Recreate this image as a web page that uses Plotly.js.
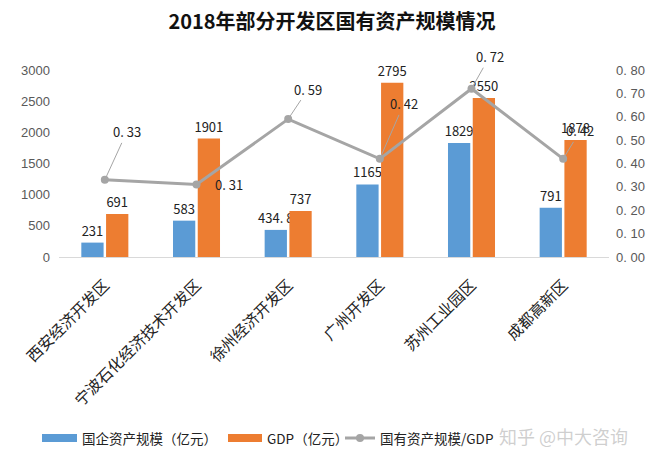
<!DOCTYPE html>
<html><head><meta charset="utf-8">
<script src="https://cdn.plot.ly/plotly-3.0.1.min.js"></script>
<style>html,body{margin:0;padding:0;background:#fff;}#chart{width:664px;height:466px;}</style>
</head><body><div id="chart"></div>
<script>
const categories = ["西安经济开发区","宁波石化经济技术开发区","徐州经济开发区","广州开发区","苏州工业园区","成都高新区"];
const soeAssets = [231, 583, 434.8, 1165, 1829, 791];
const gdp = [691, 1901, 737, 2795, 2550, 1878];
const ratio = [0.33, 0.31, 0.59, 0.42, 0.72, 0.42];
const ratioLabels = ["0. 33","0. 31","0. 59","0. 42","0. 72","0. 42"];
const rightTickVals = [0,0.1,0.2,0.3,0.4,0.5,0.6,0.7,0.8];
const rightTickText = ["0. 00","0. 10","0. 20","0. 30","0. 40","0. 50","0. 60","0. 70","0. 80"];
const seriesNames = ["国企资产规模（亿元）","GDP（亿元）","国有资产规模/GDP"];
const colors = ['#5B9BD5','#ED7D31','#A5A5A5'];

const F = '"Noto Sans CJK SC", "Noto Sans", sans-serif';
const labelFont = {family: F, size: 13, color: '#222'};

// plot area in pixels: x 59..609, y 70..257
const px = v => (v - 59) / 550;
const py = v => (257 - v) / 187;

const traces = [
  {type:'bar', name: seriesNames[0], x: categories, y: soeAssets, marker:{color:colors[0]},
   text: soeAssets.map(v => String(v).replace('.', '. ')), textposition:'outside', cliponaxis:false,
   constraintext:'none', textfont: labelFont, hoverinfo:'skip', showlegend:false},
  {type:'bar', name: seriesNames[1], x: categories, y: gdp, marker:{color:colors[1]},
   text: gdp.map(String), textposition:'outside', cliponaxis:false,
   constraintext:'none', textfont: labelFont, hoverinfo:'skip', showlegend:false},
  {type:'scatter', mode:'lines+markers', name: seriesNames[2], x: categories, y: ratio, yaxis:'y2',
   line:{color:colors[2], width:3}, marker:{color:colors[2], size:8}, hoverinfo:'skip', showlegend:false}
];

// ratio labels with leader lines (offsets in px)
const offs = [[22,-48],[32,0],[20,-30],[24,-55],[18,-32],[17,-28]];
const annotations = ratio.map((v,i) => ({
  x: categories[i], y: v, xref:'x', yref:'y2', text: ratioLabels[i],
  showarrow: offs[i][1] !== 0, arrowhead:0, arrowwidth:1, arrowcolor:'#A5A5A5',
  ax: offs[i][0], ay: offs[i][1], standoff:0,
  xshift: offs[i][1] === 0 ? offs[i][0] : 0,
  font: labelFont
}));

// custom legend
const legX = [[42,77],[228,262],[345,375]];
const legY = 438;
const shapes = [
  {type:'rect', xref:'paper', yref:'paper', x0:px(legX[0][0]), x1:px(legX[0][1]), y0:py(legY+4), y1:py(legY-4), fillcolor:colors[0], line:{width:0}},
  {type:'rect', xref:'paper', yref:'paper', x0:px(legX[1][0]), x1:px(legX[1][1]), y0:py(legY+4), y1:py(legY-4), fillcolor:colors[1], line:{width:0}},
  {type:'line', xref:'paper', yref:'paper', x0:px(legX[2][0]), x1:px(legX[2][1]), y0:py(legY), y1:py(legY), line:{color:colors[2], width:3}},
  {type:'circle', xref:'paper', yref:'paper', x0:px(356), x1:px(364), y0:py(legY+4), y1:py(legY-4), fillcolor:colors[2], line:{width:0}}
];
seriesNames.forEach((n,i) => annotations.push({xref:'paper', yref:'paper', x:px(legX[i][1]+3), y:py(legY),
  xanchor:'left', yanchor:'middle', text:n, showarrow:false, font:{family:F, size:13.5, color:'#222'}}));
annotations.push({xref:'paper', yref:'paper', x:px(563), y:py(436), xanchor:'center', yanchor:'middle',
  text:'知乎 @中大咨询', showarrow:false, font:{family:F, size:18, color:'rgba(160,160,160,0.5)'}});

const layout = {
  width:664, height:466,
  margin:{l:59, r:55, t:70, b:209},
  paper_bgcolor:'#fff', plot_bgcolor:'#fff',
  title:{text:'<b>2018年部分开发区国有资产规模情况</b>', x:0.5, xanchor:'center', y:0.953, yanchor:'middle',
         font:{family:F, size:20, color:'#111'}},
  barmode:'group', bargap:0.46, bargroupgap:0.1,
  xaxis:{type:'category', showline:true, linecolor:'#D9D9D9', linewidth:1, ticks:'', tickangle:-45,
         tickfont:{family:F, size:15.5, color:'#222'}, showgrid:false, zeroline:false, ticklabelstandoff:12},
  yaxis:{range:[0,3000], dtick:500, showgrid:false, zeroline:false, showline:false,
         tickfont:{family:'"Liberation Sans", Arial, sans-serif', size:13, color:'#595959'}, ticklabelstandoff:8},
  yaxis2:{range:[0,0.8], overlaying:'y', side:'right', showgrid:false, zeroline:false, showline:false,
          tickvals:rightTickVals, ticktext:rightTickText,
          tickfont:{family:'"Liberation Sans", Arial, sans-serif', size:13, color:'#595959'}, ticklabelstandoff:6},
  showlegend:false,
  shapes: shapes,
  annotations: annotations
};
Plotly.newPlot('chart', traces, layout, {staticPlot:true});
</script></body></html>
